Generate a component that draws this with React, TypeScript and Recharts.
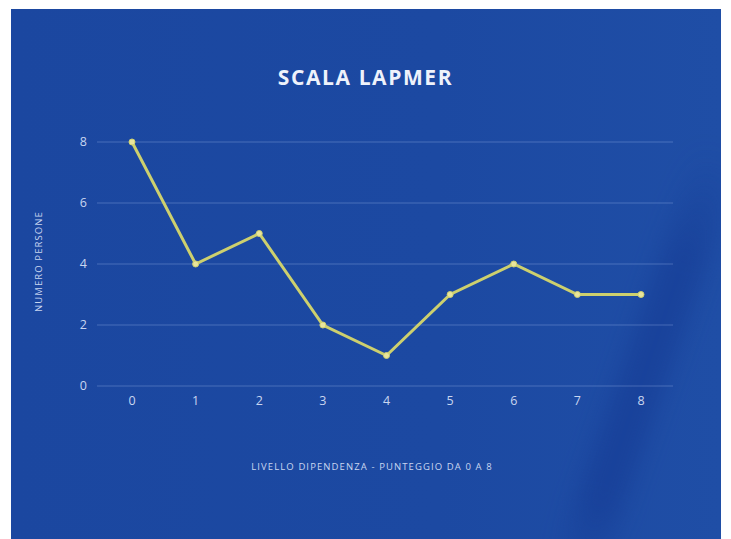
import React from "react";
import { LineChart, Line, XAxis, YAxis, CartesianGrid } from "recharts";

// LAPMER score (0–8) and number of people at each score
const scores = ["0", "1", "2", "3", "4", "5", "6", "7", "8"];
const people = [8, 4, 5, 2, 1, 3, 4, 3, 3];
const yTicks = [0, 2, 4, 6, 8];

const title = "SCALA LAPMER";
const xTitle = "LIVELLO DIPENDENZA - PUNTEGGIO DA 0 A 8";
const yTitle = "NUMERO PERSONE";

const data = scores.map((s, i) => ({ score: s, persone: people[i] }));

const W = 731;
const H = 539;
const font = "'Open Sans', 'DejaVu Sans', sans-serif";
const tickColor = "#c9d6f0";

export default function App() {
  return (
    <div
      style={{
        position: "absolute",
        left: 0,
        top: 0,
        width: W,
        height: H,
        background: "#ffffff",
        overflow: "hidden",
        fontFamily: font,
      }}
    >
      {/* blue slide panel with a soft diagonal shade on the right */}
      <div
        style={{
          position: "absolute",
          left: 11,
          top: 9,
          width: 710,
          height: 530,
          overflow: "hidden",
          background: "linear-gradient(90deg, #1b47a0 0%, #1c49a2 60%, #1f4ea6 100%)",
        }}
      >
        <div
          style={{
            position: "absolute",
            left: 612,
            top: 130,
            width: 46,
            height: 460,
            transform: "rotate(19deg)",
            transformOrigin: "50% 50%",
            background:
              "linear-gradient(180deg, rgba(16,50,140,0) 0%, rgba(16,50,140,0.4) 25%, rgba(16,50,140,0.4) 80%, rgba(16,50,140,0) 100%)",
            filter: "blur(12px)",
          }}
        />
      </div>
      <div
        style={{
          position: "absolute",
          left: 0,
          width: W,
          top: 63,
          textAlign: "center",
          color: "#eef2fb",
          fontWeight: 700,
          fontSize: 21,
          letterSpacing: 1.6,
        }}
      >
        {title}
      </div>
      <div
        style={{
          position: "absolute",
          left: 72,
          width: 600,
          top: 460,
          textAlign: "center",
          color: "#c9d6f0",
          fontSize: 9.5,
          letterSpacing: 1.1,
        }}
      >
        {xTitle}
      </div>
      <div
        style={{
          position: "absolute",
          left: 38 - 60,
          width: 120,
          top: 262 - 7,
          textAlign: "center",
          color: "#c9d6f0",
          fontSize: 9.5,
          letterSpacing: 1.1,
          transform: "rotate(-90deg)",
        }}
      >
        {yTitle}
      </div>
      <div style={{ position: "absolute", left: 0, top: 0 }}>
        <LineChart
          width={W}
          height={H}
          data={data}
          margin={{ top: 142, bottom: 123, left: 57, right: 58 }}
        >
          <CartesianGrid
            vertical={false}
            stroke="rgba(190,210,255,0.28)"
            strokeWidth={1.2}
          />
          <XAxis
            dataKey="score"
            height={30}
            axisLine={false}
            tickLine={false}
            tickSize={0}
            tickMargin={10}
            padding={{ left: 35, right: 32 }}
            tick={{ fill: tickColor, fontSize: 12.5, fontFamily: font }}
          />
          <YAxis
            width={40}
            domain={[0, 8]}
            ticks={yTicks}
            axisLine={false}
            tickLine={false}
            tickSize={0}
            tickMargin={10}
            tick={{ fill: tickColor, fontSize: 12.5, fontFamily: font }}
          />
          <Line
            type="linear"
            dataKey="persone"
            stroke="#cdd06e"
            strokeWidth={3}
            dot={{ r: 3, fill: "#e9e59c", stroke: "#cdd06e", strokeWidth: 1 }}
            isAnimationActive={false}
          />
        </LineChart>
      </div>
    </div>
  );
}
